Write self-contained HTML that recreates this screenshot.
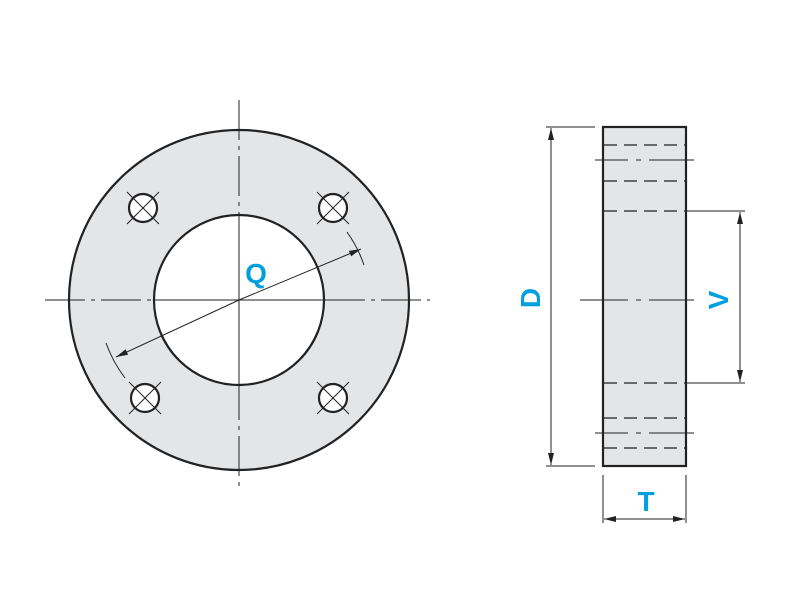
<!DOCTYPE html>
<html><head><style>body{margin:0;background:#fff}</style></head><body>
<svg width="800" height="600" viewBox="0 0 800 600" xmlns="http://www.w3.org/2000/svg">
<defs>
<marker id="a" viewBox="0 0 12 6" refX="12" refY="3" markerWidth="12" markerHeight="6" orient="auto" markerUnits="userSpaceOnUse"><path d="M0,0 L12,3 L0,6 Z" fill="#222"/></marker>
</defs>
<g stroke="#222" fill="none">
<circle cx="239" cy="300" r="170" fill="#e4e5e7" stroke-width="2.2"/>
<circle cx="239" cy="300" r="85" fill="#fff" stroke-width="2.2"/>
<g stroke-width="1">
<line x1="239" y1="100" x2="239" y2="490" stroke-dasharray="40,6,4,6"/>
<line x1="45" y1="300" x2="430" y2="300" stroke-dasharray="40,6,4,6"/>
<line x1="153" y1="300" x2="325" y2="300"/>
<line x1="239" y1="214" x2="239" y2="386"/>
<path d="M347,232 A131,131 0 0 1 364,265"/>
<path d="M106,343 A131,131 0 0 0 125,378"/>
</g>
<g stroke-width="2.2" fill="#fff">
<circle cx="143" cy="208" r="14"/><circle cx="333" cy="208" r="14"/>
<circle cx="145" cy="398" r="14"/><circle cx="333" cy="398" r="14"/>
</g>
<g stroke-width="1">
<path d="M127,192 L159,224 M159,192 L127,224"/>
<path d="M317,192 L349,224 M349,192 L317,224"/>
<path d="M129,382 L161,414 M161,382 L129,414"/>
<path d="M317,382 L349,414 M349,382 L317,414"/>
</g>
<rect x="603" y="127" width="83" height="339" fill="#e4e5e7" stroke-width="2.2"/>
<g stroke-width="1.3" stroke-dasharray="13,7">
<line x1="604" y1="145" x2="685" y2="145"/><line x1="604" y1="181" x2="685" y2="181"/>
<line x1="604" y1="211" x2="685" y2="211"/><line x1="604" y1="383" x2="685" y2="383"/>
<line x1="604" y1="418" x2="685" y2="418"/><line x1="604" y1="448" x2="685" y2="448"/>
</g>
<g stroke-width="1">
<line x1="595" y1="160" x2="694" y2="160" stroke-dasharray="33,8,5,8,60"/>
<line x1="580" y1="300" x2="694" y2="300" stroke-dasharray="48,8,5,8,60"/>
<line x1="595" y1="433" x2="694" y2="433" stroke-dasharray="33,8,5,8,60"/>
<line x1="546" y1="127" x2="595" y2="127"/><line x1="546" y1="466" x2="595" y2="466"/>
<line x1="551" y1="296" x2="551" y2="128" marker-end="url(#a)"/>
<line x1="551" y1="296" x2="551" y2="465" marker-end="url(#a)"/>
<line x1="686" y1="211" x2="745" y2="211"/><line x1="686" y1="383" x2="745" y2="383"/>
<line x1="740" y1="297" x2="740" y2="382" marker-end="url(#a)"/>
<line x1="740" y1="297" x2="740" y2="212" marker-end="url(#a)"/>
<line x1="239" y1="300" x2="361" y2="249" marker-end="url(#a)"/>
<line x1="239" y1="300" x2="116" y2="357" marker-end="url(#a)"/>
<line x1="603" y1="475" x2="603" y2="523"/><line x1="686" y1="475" x2="686" y2="523"/>
<line x1="645" y1="519" x2="685" y2="519" marker-end="url(#a)"/>
<line x1="645" y1="519" x2="604" y2="519" marker-end="url(#a)"/>
</g>
</g>
<g fill="#00a0e0" font-family="Liberation Sans, sans-serif" font-weight="bold" font-size="28" text-anchor="middle">
<text x="256" y="283">Q</text>
<text x="646" y="511">T</text>
<text transform="translate(540,298) rotate(-90)">D</text>
<text transform="translate(728,300) rotate(-90)">V</text>
</g>
</svg>
</body></html>
